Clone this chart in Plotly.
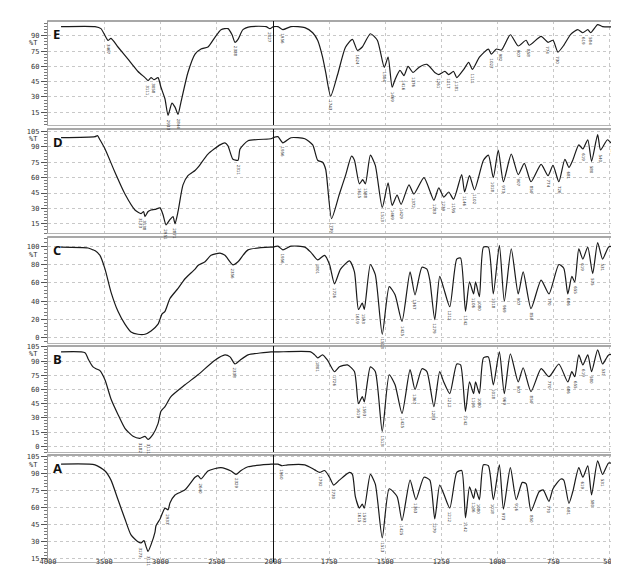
import plotly.graph_objects as go

# ---------------- data (wavenumber cm-1, %T) ----------------
wn_E = [3884, 3582, 3529, 3467, 3440, 3378, 3289, 3200, 3138, 3111, 3084, 3058, 3022, 2996, 2960,
        2933, 2898, 2871, 2844, 2818, 2756, 2693, 2640, 2578, 2516, 2462, 2400, 2364, 2338, 2311,
        2267, 2196, 2062, 2027, 2000,
        1978, 1956, 1920, 1858, 1823, 1801, 1779, 1765, 1743, 1712, 1677, 1646, 1624, 1602, 1566,
        1535, 1504, 1487, 1469, 1456, 1434, 1416, 1398, 1376, 1350, 1314, 1279, 1261, 1234, 1217,
        1195, 1181, 1150, 1128, 1111, 1080, 1040, 1027, 1004, 982, 942, 907, 872, 858, 805, 774,
        752, 730, 704, 673, 642, 619, 597, 584, 553, 531, 438]
T_E = [99, 99, 97, 85.5, 87.5, 79, 67, 55, 49, 46, 49, 47, 49, 39.5, 28,
       12, 24, 20, 13, 25, 54, 72, 77, 79, 88.5, 96, 97, 91, 83.6, 86.5,
       96, 99, 99, 97, 99,
       99, 96, 99, 98, 93, 85.5, 69, 54, 30.7, 52, 78.7, 86.5, 75.8, 79, 92,
       85.6, 59, 69, 39.5, 47, 56, 51, 60, 54, 59, 62, 54, 52, 55, 52,
       55, 49, 57, 64, 57, 69, 77, 72, 77, 76, 91, 80, 85.6, 80.7, 89.5, 83.6,
       85.6, 74, 80.7, 91.4, 96, 93, 96, 93, 101, 99, 99]

wn_D = [3884, 3582, 3560, 3538, 3493, 3404, 3316, 3227, 3173, 3150, 3138, 3110, 3084, 3049, 3004,
        2978, 2951, 2916, 2889, 2871, 2844, 2800, 2756, 2693, 2667, 2578, 2471, 2427, 2400, 2356,
        2311, 2293, 2222, 2018, 2000,
        1978, 1956, 1920, 1858, 1823, 1801, 1779, 1765, 1739, 1704, 1677, 1650, 1637, 1615, 1600,
        1588, 1566, 1544, 1513, 1487, 1469, 1447, 1429, 1394, 1372, 1327, 1283, 1261, 1239, 1217,
        1195, 1159, 1146, 1124, 1102, 1062, 1040, 1018, 996, 973, 938, 907, 880, 850, 805, 774,
        752, 726, 699, 681, 664, 637, 619, 597, 580, 553, 540, 509, 487, 460, 438]
T_D = [99, 100, 101, 97, 88, 65, 44, 28.5, 25, 27, 22, 27, 28.5, 29, 30.5,
       24, 14, 19, 22, 15, 27, 53, 62, 67, 70, 83, 92, 94, 91, 78,
       77, 88, 96, 98, 99,
       100, 94, 99, 98, 92, 77, 75, 68, 20, 44, 62, 81, 77, 54, 58,
       54, 82, 72, 31, 55, 33, 43, 34, 53, 44, 60, 38, 50, 41, 46,
       39, 63, 46, 62, 48, 77, 82, 60, 87, 56, 83, 63, 74, 56, 73, 62,
       72, 56, 78, 70, 77, 92, 88, 97, 76, 102, 87, 97, 93, 100, 100]

wn_C = [3884, 3644, 3600, 3580, 3538, 3493, 3440, 3378, 3316, 3262, 3200, 3138, 3084, 3022, 2987,
        2960, 2916, 2844, 2782, 2693, 2667, 2604, 2551, 2471, 2427, 2356, 2311, 2222, 2018, 2000,
        1978, 1956, 1920, 1858, 1832, 1801, 1770, 1748, 1726, 1699, 1659, 1637, 1619, 1602, 1593,
        1566, 1544, 1513, 1482, 1456, 1425, 1389, 1367, 1336, 1314, 1301, 1279, 1257, 1239, 1212,
        1181, 1164, 1142, 1124, 1106, 1097, 1080, 1062, 1040, 1018, 991, 969, 938, 907, 885, 850,
        805, 770, 726, 704, 686, 668, 655, 637, 619, 597, 575, 553, 531, 504, 482, 438]
T_C = [99, 98, 96, 95, 90, 75, 50, 29, 15, 6.5, 4, 4, 7.5, 15, 26,
       29, 43, 54, 64.5, 75, 79, 83, 90, 92.5, 90, 79.6, 83, 96, 99, 99,
       100, 96, 100, 99, 93.5, 85, 90, 80, 59, 75, 84, 72, 31, 38, 31,
       80, 69, 4, 56, 47, 18, 72, 47, 77, 75, 63, 20, 67, 54, 34,
       86, 87, 29, 61, 48, 61, 45, 99, 99, 48, 101, 40, 97, 48, 72, 32,
       63, 48, 80, 76, 48, 67, 61, 97, 86, 99, 70, 104, 86, 99, 100, 100]

wn_B = [3884, 3671, 3644, 3618, 3600, 3573, 3538, 3493, 3440, 3378, 3316, 3244, 3182, 3138, 3111,
        3067, 3022, 2996, 2960, 2907, 2782, 2667, 2516, 2427, 2382, 2338, 2293, 2222, 2018, 2000,
        1978, 1832, 1814, 1801, 1779, 1757, 1726, 1704, 1668, 1637, 1619, 1602, 1593, 1566, 1544,
        1513, 1482, 1456, 1425, 1389, 1367, 1336, 1314, 1283, 1257, 1239, 1212, 1181, 1164, 1142,
        1124, 1106, 1097, 1080, 1062, 1040, 1018, 991, 969, 942, 907, 885, 850, 805, 770, 726,
        686, 668, 655, 637, 619, 597, 580, 553, 531, 504, 460, 438]
T_B = [99.8, 99, 92.5, 87, 84, 82, 80, 70, 50, 33.7, 19, 10.6, 8.5, 10.6, 7.4,
       12.7, 24, 37, 42, 52.5, 65, 75.6, 91, 96.6, 94.5, 87, 91, 96.6, 99.8, 99.8,
       99.8, 99.8, 96.6, 93.5, 96.6, 91, 78.8, 84, 86, 79, 45, 52.5, 47, 84, 79,
       15.8, 75.6, 65, 34.7, 81, 60, 82, 79, 42, 79, 68, 55.7, 87, 86, 37,
       68, 55.7, 68, 55.7, 93.5, 94.5, 65, 99.8, 55.7, 97.7, 68, 83, 57.8, 82, 73.5, 87,
       68, 79, 73.5, 96.6, 86, 96.6, 79, 102, 87, 96.6, 97.7, 97.7]

wn_A = [3884, 3582, 3493, 3440, 3378, 3316, 3262, 3200, 3173, 3147, 3129, 3111, 3084, 3049, 3040,
        3004, 2960, 2933, 2916, 2871, 2782, 2693, 2667, 2640, 2578, 2462, 2373, 2329, 2284, 2222,
        2018, 2000,
        1978, 1960, 1934, 1858, 1814, 1792, 1770, 1748, 1730, 1704, 1659, 1646, 1633, 1615, 1602,
        1593, 1566, 1544, 1513, 1482, 1447, 1425, 1389, 1363, 1327, 1301, 1279, 1257, 1239, 1212,
        1181, 1159, 1142, 1124, 1106, 1097, 1080, 1062, 1040, 1018, 991, 973, 942, 916, 889, 872,
        850, 814, 796, 770, 752, 717, 704, 681, 664, 637, 619, 597, 580, 553, 531, 504, 473, 438]
T_A = [98, 97.4, 92, 84, 67, 50, 36, 30, 29, 31, 26, 21.5, 27.5, 38.5, 44,
       50, 59.5, 58, 64, 71, 75.5, 86.5, 88, 85, 92, 95, 92, 89, 92.4, 95.7,
       98, 98,
       98, 96.6, 97.4, 97.4, 93, 90.7, 92.4, 86.5, 79.7, 84, 90.7, 89, 69.6, 59.5, 63,
       59.5, 89, 80.5, 33.4, 76.4, 69.6, 48.5, 84, 67, 86.5, 84, 50, 79.7, 72, 59.5,
       90.7, 92.4, 51, 78, 68, 76.4, 67, 97.4, 96.6, 67, 97.4, 58.6, 95, 67, 82, 81,
       57, 73.8, 75.5, 65.4, 76.4, 85, 84, 63.7, 73.8, 95, 86.5, 96.6, 71, 100.8, 89, 99, 98, 99]

panel_names = ["E", "D", "C", "B", "A"]
y_ranges = {"E": [2.5, 104.5], "D": [6, 107.5], "C": [-5.5, 110], "B": [-6, 106], "A": [12.3, 106]}
y_ticks = {"E": [15, 30, 45, 60, 75, 90], "D": [15, 30, 45, 60, 75, 90, 105],
           "C": [0, 20, 40, 60, 80, 100], "B": [0, 15, 30, 45, 60, 75, 90, 105],
           "A": [15, 30, 45, 60, 75, 90, 105]}
x_ticks_left = [4000, 3500, 3000, 2500]
x_ticks_right = [2000, 1750, 1500, 1250, 1000, 750, 500]
series = {"E": (wn_E, T_E), "D": (wn_D, T_D), "C": (wn_C, T_C), "B": (wn_B, T_B), "A": (wn_A, T_A)}

# ---------------- layout geometry ----------------
W, H = 619, 568
ML, MR, MT, MB = 40, 4, 12, 14
split = 225 / 575.0
panel_px = {"E": (13, 117), "D": (121, 225), "C": (229, 335), "B": (338, 444), "A": (447, 554)}
ph = H - MT - MB


def xn(n):
    return "x" if n == 1 else "x%d" % n


def yn(n):
    return "y" if n == 1 else "y%d" % n


fig = go.Figure()
layout = dict(width=W, height=H, margin=dict(l=ML, r=MR, t=MT, b=MB),
              paper_bgcolor="white", plot_bgcolor="white", showlegend=False)
annotations = []
shapes = []
tick_font = dict(family="DejaVu Sans Mono", size=7, color="#333")

for i, name in enumerate(panel_names):
    xl, xr, ya = 2 * i + 1, 2 * i + 2, i + 1
    wn, T = series[name]
    left = [(w, t) for w, t in zip(wn, T) if w >= 2000]
    right = [(w, t) for w, t in zip(wn, T) if w <= 2000]
    for pts, xa in ((left, xl), (right, xr)):
        fig.add_trace(go.Scatter(x=[p[0] for p in pts], y=[p[1] for p in pts], mode="lines",
                                 line=dict(color="#1a1a1a", width=1.2, shape="spline", smoothing=0.6),
                                 xaxis=xn(xa), yaxis=yn(ya), hoverinfo="skip"))
    top_px, bot_px = panel_px[name]
    dom = [(H - MB - bot_px) / ph, (H - MB - top_px) / ph]
    bottom = (name == "A")
    common_x = dict(showgrid=True, gridcolor="#c8c8c8", griddash="dot", gridwidth=1,
                    showline=True, linecolor="#b4b4b4", linewidth=1, mirror=True,
                    zeroline=False, ticks="", ticklen=0, ticklabelstandoff=-7,
                    tickfont=dict(family="DejaVu Sans Mono", size=7, color="#333"),
                    anchor=yn(ya))
    layout["xaxis" if xl == 1 else "xaxis%d" % xl] = dict(
        common_x, domain=[0, split], range=[4000, 2000],
        tickvals=x_ticks_left, showticklabels=bottom)
    layout["xaxis%d" % xr] = dict(common_x, domain=[split, 1], range=[2000, 440],
                                  tickvals=x_ticks_right, showticklabels=bottom)
    dt = y_ticks[name][1] - y_ticks[name][0]
    layout["yaxis" if ya == 1 else "yaxis%d" % ya] = dict(
        domain=dom, range=y_ranges[name], tickvals=y_ticks[name],
        anchor=xn(xl), showgrid=True, gridcolor="#c8c8c8", griddash="dot",
        showline=True, linecolor="#9a9a9a", linewidth=1.2,
        ticks="outside", ticklen=6, tickcolor="#555", tickwidth=1,
        tickfont=tick_font, zeroline=False,
        minor=dict(dtick=dt / 5, ticks="outside", ticklen=3, tickcolor="#777", showgrid=False))
    tv = y_ticks[name]
    annotations.append(dict(x=0, xref="paper", xanchor="right", xshift=-8,
                            y=(tv[-1] + tv[-2]) / 2.0, yref=yn(ya), yanchor="middle",
                            text="%T", showarrow=False, font=tick_font))
    annotations.append(dict(x=0.012, xref=xn(xl) + " domain", xanchor="left",
                            y=0.98, yref=yn(ya) + " domain", yanchor="top",
                            text="<b>%s</b>" % name, showarrow=False,
                            font=dict(family="Open Sans", size=13, color="#111")))
    shapes.append(dict(type="line", xref="paper", x0=0, x1=1,
                       yref=yn(ya) + " domain", y0=1, y1=1,
                       line=dict(color="#a8a8a8", width=2)))
    shapes.append(dict(type="line", xref=xn(xr), x0=2000, x1=2000,
                       yref=yn(ya) + " domain", y0=0, y1=1,
                       line=dict(color="#111", width=2)))
    for k in range(1, len(wn) - 1):
        if T[k] < T[k - 1] and T[k] < T[k + 1]:
            xa = xl if wn[k] > 2000 else xr
            annotations.append(dict(x=wn[k], xref=xn(xa), y=T[k], yref=yn(ya),
                                    text=str(wn[k]), textangle=90, showarrow=False,
                                    yanchor="top", xanchor="center", yshift=-2,
                                    font=dict(family="DejaVu Sans", size=4, color="#333")))

layout["annotations"] = annotations
layout["shapes"] = shapes
fig.update_layout(**layout)
fig.write_html("out.html")
